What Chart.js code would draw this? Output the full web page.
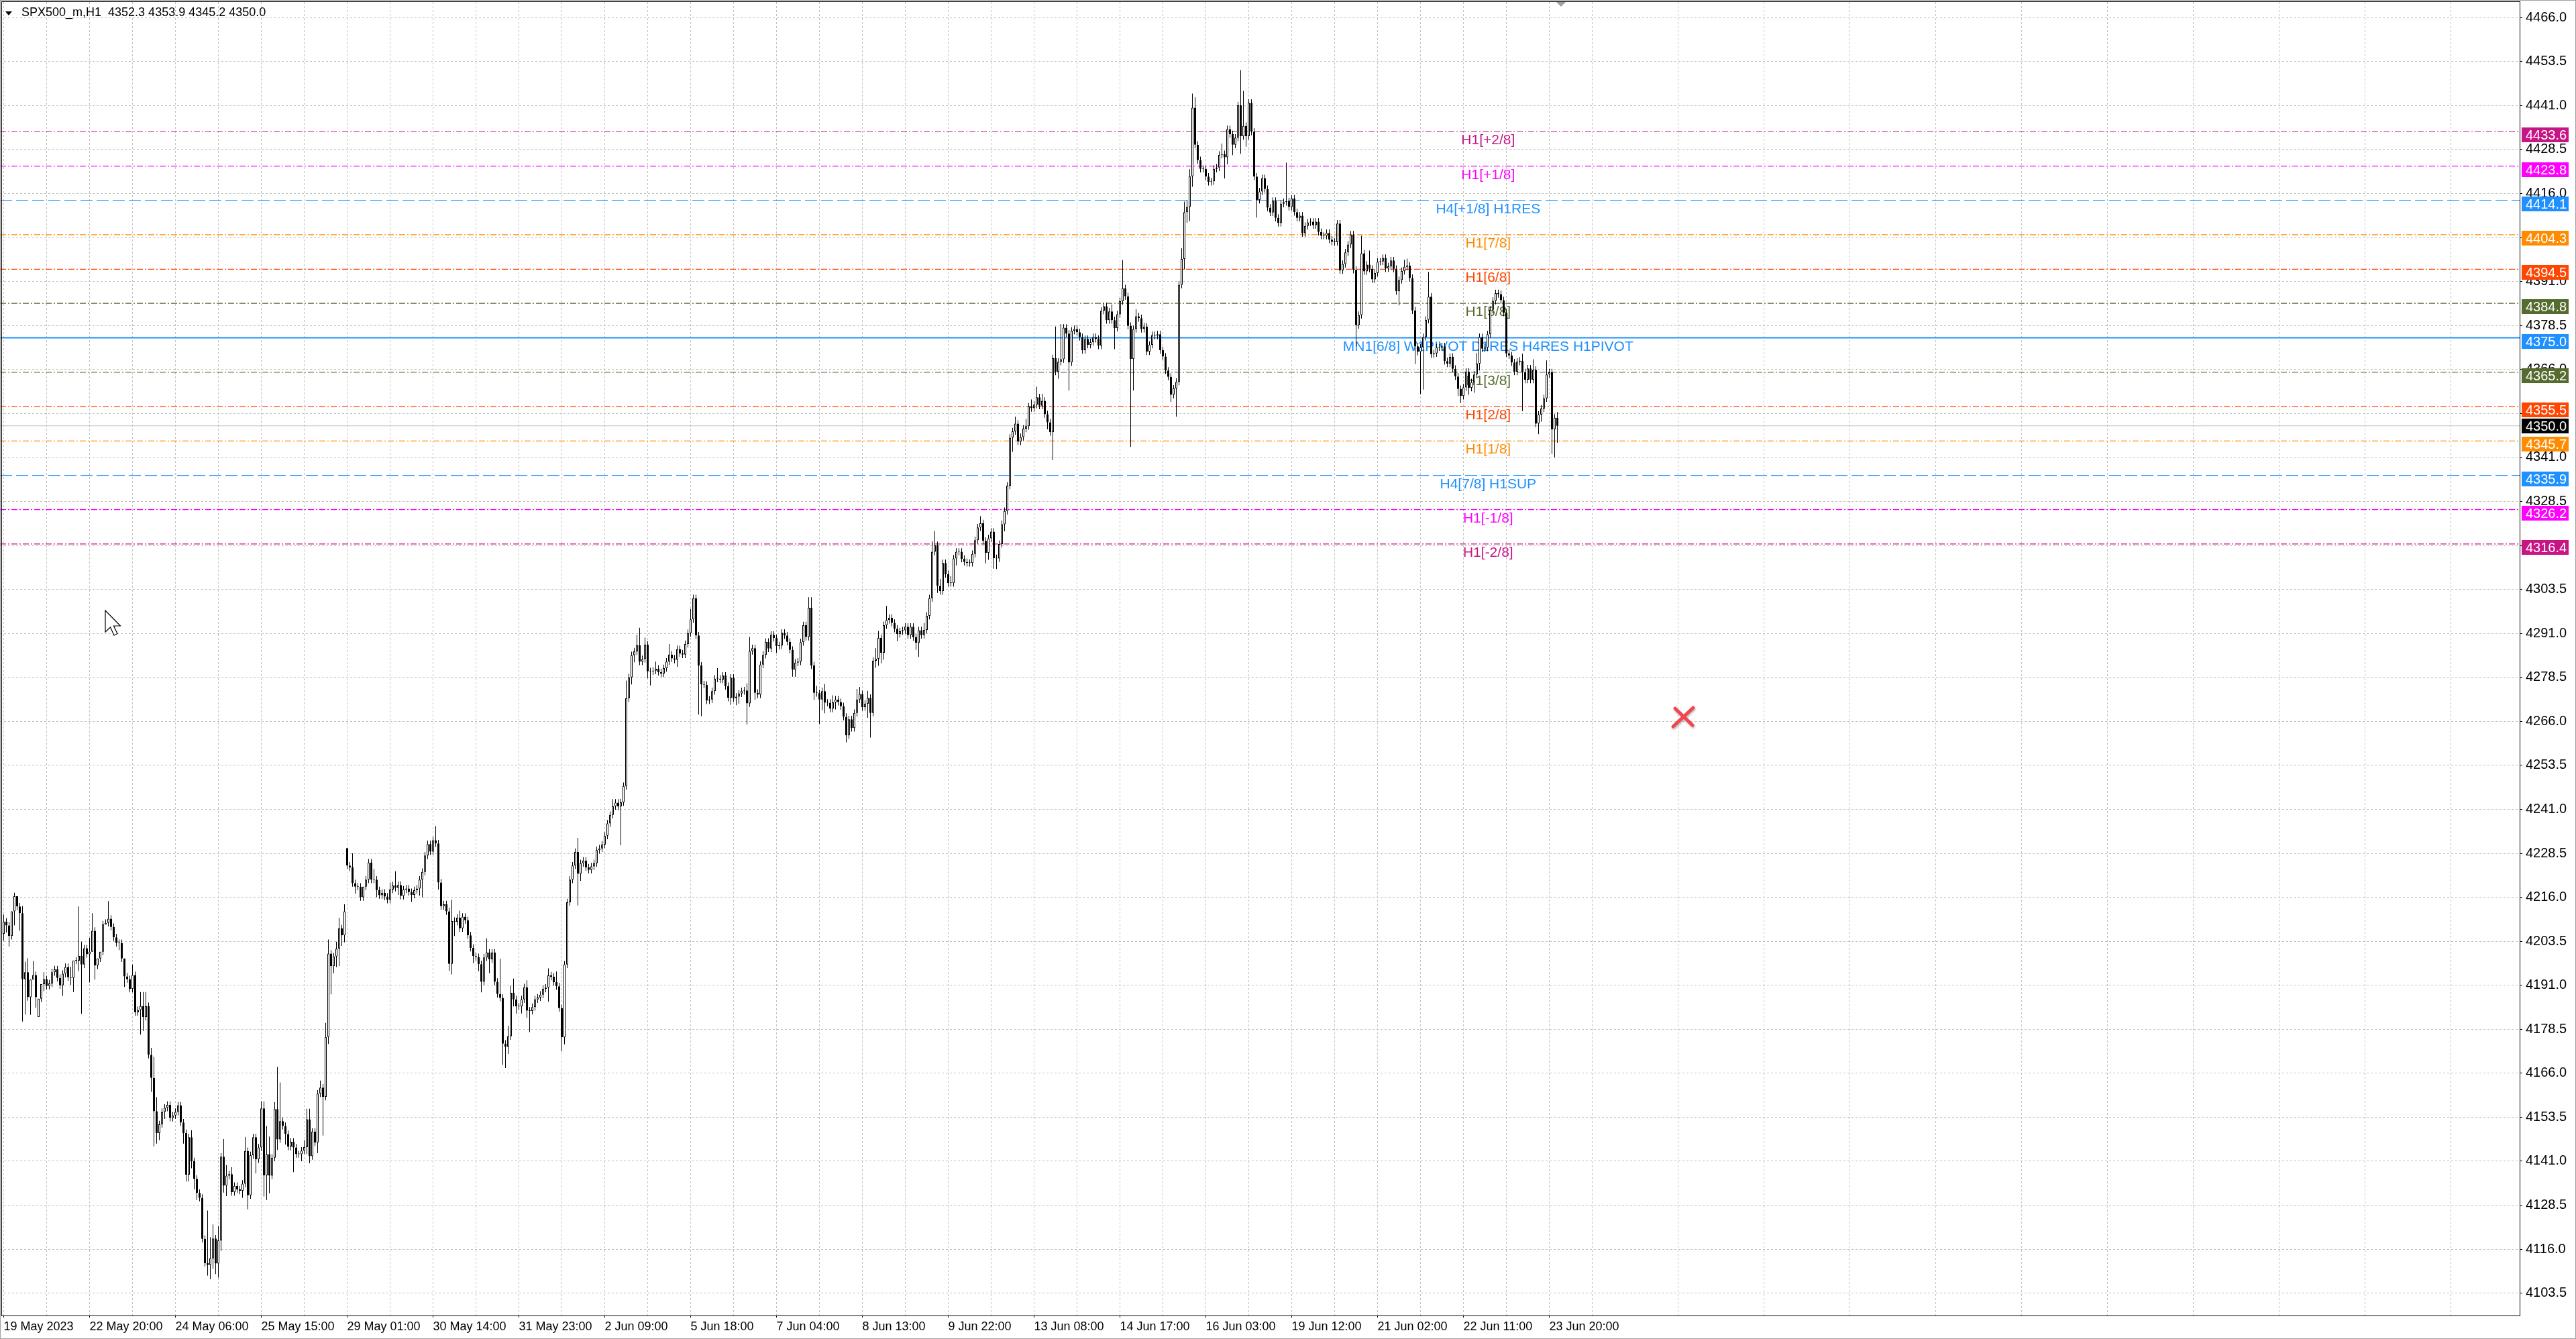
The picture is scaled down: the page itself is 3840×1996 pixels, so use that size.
<!DOCTYPE html>
<html>
<head>
<meta charset="utf-8">
<script src="https://cdn.jsdelivr.net/npm/chart.js@4.4.0/dist/chart.umd.min.js"></script>
<style>
  html, body { margin: 0; padding: 0; background: #fff; overflow: hidden; }
  canvas { display: block; }
</style>
</head>
<body>
<canvas id="chart" width="3840" height="1996"></canvas>
<script>
// --- data (SPX500_m, H1) ---
const symbolTitle = 'SPX500_m,H1  4352.3 4353.9 4345.2 4350.0';
const timeLabels = ['19 May 2023', '22 May 20:00', '24 May 06:00', '25 May 15:00', '29 May 01:00', '30 May 14:00',
  '31 May 23:00', '2 Jun 09:00', '5 Jun 18:00', '7 Jun 04:00', '8 Jun 13:00', '9 Jun 22:00', '13 Jun 08:00',
  '14 Jun 17:00', '16 Jun 03:00', '19 Jun 12:00', '21 Jun 02:00', '22 Jun 11:00', '23 Jun 20:00'];
const priceTicks = [4466.0, 4453.5, 4441.0, 4428.5, 4416.0, 4403.5, 4391.0, 4378.5, 4366.0, 4353.5, 4341.0,
  4328.5, 4316.0, 4303.5, 4291.0, 4278.5, 4266.0, 4253.5, 4241.0, 4228.5, 4216.0, 4203.5, 4191.0, 4178.5,
  4166.0, 4153.5, 4141.0, 4128.5, 4116.0, 4103.5];

// closes per hourly bar; open = previous close unless listed in gapOpens
const closes = [
  4209.1, 4208, 4205, 4212, 4216.3, 4213.4, 4211.5, 4192.7, 4194.7, 4187.6,
  4192.6, 4193.9, 4187.6, 4187.2, 4191.3, 4192.7, 4190.8, 4191.5, 4194.7, 4195.5,
  4193.1, 4191, 4194.3, 4196.2, 4193.3, 4193.1, 4198, 4198, 4199.4, 4196.9,
  4201.5, 4199.8, 4200.5, 4206.5, 4196.6, 4198.6, 4200.5, 4208.3, 4208.7, 4209.9,
  4207.6, 4204.6, 4203, 4203, 4198.6, 4193.5, 4192.7, 4190, 4193.9, 4183.3,
  4184, 4185.1, 4182, 4185.1, 4171.2, 4164.7, 4155.2, 4149, 4151.5, 4155,
  4156.2, 4157, 4153.3, 4154, 4155, 4156.8, 4152, 4149, 4137.2, 4147.8,
  4141, 4136, 4132, 4130.6, 4118.9, 4112, 4111.5, 4113.4, 4119, 4111.9,
  4118.5, 4142.3, 4134.1, 4136.9, 4137.3, 4132.2, 4134, 4133, 4132.6, 4134.6,
  4143.9, 4131.3, 4142.7, 4147.8, 4141.5, 4144.9, 4156, 4137, 4143, 4136.9,
  4142, 4155.8, 4147.2, 4152.4, 4151, 4148.7, 4145.1, 4146.5, 4144.9, 4143,
  4143, 4144, 4145, 4152.9, 4142.4, 4149.4, 4146.3, 4160.2, 4161.9, 4159.3,
  4176.3, 4200, 4196.4, 4199.2, 4201.4, 4207.2, 4205.2, 4212, 4225, 4224.5,
  4220, 4219, 4219, 4216, 4219, 4221, 4225.9, 4221, 4221, 4218,
  4216.6, 4217.3, 4216.2, 4215.3, 4218.2, 4219.4, 4218.7, 4219.5, 4216.4, 4218.2,
  4218.5, 4217.5, 4216.7, 4218, 4218.5, 4221, 4223.2, 4227.9, 4231.1, 4229,
  4232.2, 4231.3, 4220.2, 4213.5, 4214, 4212, 4197.1, 4209.3, 4209, 4210.2,
  4207.2, 4210.5, 4209.5, 4205.2, 4201.6, 4199.3, 4199, 4197, 4192, 4198.9,
  4200.3, 4198.4, 4200.3, 4192, 4188.5, 4187.4, 4174.4, 4173.5, 4176.5, 4188.9,
  4187, 4185, 4185, 4187, 4190.4, 4183.8, 4183.7, 4184.8, 4187, 4187.5,
  4188.3, 4190, 4190.3, 4193.8, 4193.4, 4191.9, 4190.7, 4184.5, 4176.2, 4196.9,
  4214.6, 4221, 4225, 4228.9, 4222.7, 4225.7, 4226.4, 4224.5, 4223.8, 4224.8,
  4225.7, 4229.4, 4229.9, 4231, 4233.5, 4237, 4239.4, 4241.9, 4242.9, 4241.8,
  4243, 4247.6, 4272.6, 4278.5, 4284.8, 4285.9, 4287.6, 4283, 4283.7, 4287.8,
  4280.2, 4280.2, 4280.4, 4281, 4280, 4279.6, 4281.1, 4283, 4285, 4283.9,
  4283.5, 4286.5, 4285.3, 4285, 4288, 4291.1, 4295, 4301, 4290.4, 4281.9,
  4276.5, 4276.4, 4271.9, 4272.2, 4274.6, 4278.1, 4278.1, 4277.9, 4279, 4276,
  4272.7, 4278.4, 4272.6, 4273, 4273.9, 4274.6, 4274.8, 4271.1, 4286, 4286.8,
  4274.1, 4273.6, 4282.1, 4284.9, 4288.6, 4286.7, 4290.6, 4289.7, 4287.4, 4287.6,
  4291.2, 4290.4, 4288.6, 4286.3, 4280.7, 4282.7, 4283, 4288.5, 4293.3, 4290,
  4298.3, 4281.9, 4274.1, 4274, 4272.2, 4274.6, 4271.3, 4271.3, 4269.6, 4271.4,
  4272.2, 4271.5, 4270.3, 4267.3, 4262, 4266.6, 4264.1, 4268.4, 4272.2, 4273.8,
  4270, 4271, 4272.7, 4268.4, 4283.2, 4283.8, 4289.7, 4285.5, 4293.3, 4294.8,
  4295.4, 4294, 4292.3, 4290.8, 4291.6, 4291.9, 4292.9, 4290.5, 4292.9, 4289.9,
  4288.3, 4291.9, 4290.5, 4292, 4296, 4301, 4314.2, 4316.1, 4304.5, 4303,
  4311, 4307.8, 4305.3, 4305.3, 4312.3, 4314.2, 4314.2, 4312.2, 4311.3, 4311,
  4311, 4313.6, 4317.5, 4321.1, 4322.3, 4317.3, 4313.9, 4318, 4319.9, 4312.4,
  4312.3, 4316.4, 4322, 4325.8, 4333, 4346.6, 4348.4, 4350.6, 4345.5, 4346.8,
  4349.2, 4349.9, 4355.5, 4355, 4356, 4358.1, 4355.7, 4357.1, 4353.3, 4351,
  4348.2, 4369.2, 4365.4, 4368.2, 4368.9, 4377.9, 4376.2, 4368, 4377, 4377.5,
  4376.6, 4375.2, 4371.5, 4374.7, 4373, 4373.8, 4375.2, 4374.7, 4372.8, 4382.7,
  4384, 4380, 4382.5, 4380, 4377.8, 4381.7, 4385.4, 4389.1, 4386.8, 4378.4,
  4369, 4377.5, 4381.1, 4380.6, 4377.5, 4378.2, 4371.1, 4373, 4375.8, 4375.6,
  4376, 4371.5, 4369.7, 4365.7, 4363.9, 4358.8, 4360.6, 4362.5, 4390.1, 4397.4,
  4410.7, 4412.2, 4420.9, 4440.4, 4429.9, 4425.5, 4423, 4423, 4420.8, 4419.3,
  4419.5, 4423, 4423.4, 4427, 4427.2, 4426.3, 4434.3, 4432.9, 4429.9, 4431.9,
  4441.1, 4432.3, 4435.2, 4432.3, 4441.8, 4433.6, 4420.8, 4414.2, 4416.6, 4420.4,
  4417.3, 4412, 4410.6, 4413.9, 4409.1, 4407.6, 4413.1, 4413.6, 4413.8, 4412.2,
  4414.6, 4410.7, 4409.1, 4409.7, 4404.7, 4406.8, 4407.8, 4408, 4407, 4408,
  4405.1, 4404, 4404, 4404.8, 4402.9, 4402.3, 4402.2, 4407.5, 4394.2, 4396,
  4399.3, 4401.5, 4404.4, 4394.3, 4378.6, 4381.5, 4399, 4393.9, 4395.8, 4394.6,
  4391.6, 4393.4, 4396.6, 4396.7, 4397.7, 4394.7, 4395.3, 4397, 4394.6, 4388.2,
  4391.4, 4394, 4395.2, 4395.5, 4392, 4382.8, 4372.6, 4371, 4372.3, 4375.2,
  4380.1, 4386.7, 4370.3, 4370.6, 4372.3, 4372.3, 4372.6, 4368.4, 4367.7, 4369.6,
  4366.2, 4364, 4360.5, 4358.5, 4360.9, 4365.4, 4360.8, 4362.4, 4364.6, 4367.7,
  4375.2, 4371.9, 4372.2, 4376, 4383, 4385.5, 4387.7, 4387.4, 4385.7, 4382.1,
  4370.6, 4370, 4368, 4365.4, 4368.2, 4368.5, 4365.2, 4363.1, 4366.3, 4363.1,
  4365.9, 4350.6, 4353.2, 4354.9, 4357.8, 4364.6, 4365.2, 4349, 4352.3, 4350
];
// upper / lower shadow length of each bar, in points
const wickUp = [
  2,1,1,0,1,0,1,2,3,4, 0,4,1,0,0,2,1,1,1,1, 1,1,1,1,1,3,0,1,14,4, 1,1,4,5,1,0,0,1,1,5,
  1,1,1,1,1,0,1,1,3,1, 1,4,4,4,1,2,6,4,1,1, 1,1,1,1,1,1,1,1,1,1, 2,1,1,1,1,1,15,6,4,1,
  4,1,5,3,1,2,1,1,1,1, 4,1,1,1,1,1,2,2,8,5, 1,2,12,11,1,1,1,1,1,1, 1,1,2,3,3,1,1,1,2,1,
  4,4,1,1,2,3,1,2,0,1, 4,1,1,1,0,1,1,1,3,1, 1,1,1,1,2,1,4,1,1,1, 1,1,1,1,1,1,1,1,1,1,
  1,4,1,1,1,1,1,6,1,1, 2,1,1,1,1,1,1,1,1,1, 4,1,1,1,1,10,1,1,3,2, 4,1,1,1,1,2,1,1,1,1,
  1,1,1,2,1,1,3,1,1,1, 1,1,1,1,4,1,1,1,1,1, 1,1,1,1,1,1,1,2,1,1, 1,1,5,1,1,1,3,5,1,2,
  1,1,1,2,1,1,1,1,3,1, 1,1,1,1,1,1,3,1,1,1, 1,1,1,1,1,1,3,1,1,1, 1,1,1,1,1,1,1,2,4,1,
  1,1,1,1,1,1,1,1,1,1, 1,1,1,1,1,1,1,1,1,1, 3,3,1,2,1,1,2,1,1,2, 1,1,1,1,1,1,1,1,3,2,
  1,1,2,1,1,3,2,1,1,4, 1,1,1,1,1,1,1,1,1,1, 1,1,1,2,1,1,3,4,1,2, 1,1,1,2,1,1,1,1,1,1,
  1,1,1,1,2,1,1,1,1,1, 1,1,1,1,1,1,1,2,1,1, 1,2,1,2,1,3,1,2,1,1, 1,1,9,1,10,1,1,1,1,1,
  1,1,1,1,1,1,1,1,1,1, 1,1,1,2,1,1,1,8,1,1, 1,1,2,1,1,1,1,1,1,1, 1,1,1,1,1,1,1,1,1,3,
  3,2,2,4,3,1,1,1,1,1, 1,1,1,1,3,1,1,1,1,1, 1,10,10,1,1,1,1,1,1,1, 1,1,1,1,1,1,1,1,11,1,
  1,1,1,1,1,1,1,1,1,1, 1,1,1,1,1,1,1,1,1,1, 1,1,1,1,1,1,5,1,1,4, 1,1,1,1,1,1,1,1,1,1,
  1,1,2,2,1,1,1,1,1,1, 1,7,1,1,1,1,1,1,1,1, 1,1,1,1,1,1,1,1,1,3, 1,1,1,1,1,1,1,1,1,1,
  1,1,1,1,1,1,2,1,1,1, 3,1,1,1,1,4,1,1,1,1.6
];
const wickDn = [
  2,2,3,1,4,1,5,12,10,1, 5,0,3,0,1,2,1,1,1,1, 1,1,3,1,1,2,4,1,3,14, 1,1,8,0,4,1,1,1,0,1,
  1,1,1,2,1,3,1,1,1,1, 1,7,4,1,1,4,10,3,2,1, 2,1,1,1,1,1,1,3,2,2, 2,3,2,1,1,1,3,4,3,3,
  4,3,2,3,1,1,1,1,1,2, 1,4,1,1,4,1,1,6,7,5, 1,1,3,1,1,3,1,1,7,1, 1,2,1,2,2,1,1,3,1,11,
  1,2,8,2,3,5,3,2,1,1, 1,2,1,1,1,1,1,1,1,2, 1,1,1,1,1,1,1,2,1,1, 1,1,2,1,1,2,5,1,1,1,
  1,1,2,1,1,1,2,3,4,1, 1,1,1,1,1,2,1,2,3,1, 1,4,1,1,1,1,6,6,2,1, 2,2,1,2,1,2,6,1,1,1,
  1,1,1,4,1,1,1,1,4,2, 1,1,1,1,9,2,1,1,1,1, 1,1,1,1,1,1,1,1,1,1, 11,1,1,1,2,2,1,1,1,1,
  2,4,1,1,1,1,1,1,1,1, 1,2,1,1,1,1,1,1,1,14, 9,1,1,1,1,1,1,1,1,1, 1,2,1,2,2,1,1,6,1,1,
  2,1,1,1,1,1,1,1,2,1, 1,1,1,1,2,2,1,1,1,1, 1,1,2,1,7,3,3,1,1,1, 2,1,1,1,2,1,1,1,1,1,
  1,1,4,7,1,2,2,3,2,1, 1,1,1,2,1,1,1,1,1,1, 2,4,1,1,1,1,1,1,2,1, 1,1,1,1,1,2,1,1,1,1,
  1,1,1,1,1,1,3,2,1,3, 3,1,1,2,1,1,4,1,1,1, 1,1,1,1,1,1,1,1,1,2, 1,8,1,2,1,1,1,8,1,1,
  1,1,1,1,1,1,1,1,1,1, 1,1,1,1,6,1,1,1,1,1, 25,9,1,1,1,1,1,1,1,1, 1,1,1,1,1,2,1,8,1,1,
  3,3,4,3,1,1,1,1,1,1, 1,1,1,1,1,6,2,1,3,1, 1,5,1,3,1,1,1,5,1,1, 1,1,1,1,1,1,1,1,1,1,
  1,1,1,1,1,1,1,1,1,1, 1,1,1,1,1,1,1,1,1,1, 1,1,1,1,6,1,1,1,1,1, 1,1,1,1,1,1,1,1,1,1,
  4,1,1,1,1,1,5,1,12,12, 1,1,1,1,1,1,1,1,1,1, 1,1,2,2,1,1,2,1,3,1, 2,1,1,1,1,1,1,1,1,1,
  1,1,1,1,1,1,11,1,1,1, 1,1,3,2,1,1,1,7,8,4.8
];
const gapOpens = { 0: 4205.6, 13: 4182, 128: 4230 };

const levelPrices = [4433.6, 4423.8, 4414.1, 4404.3, 4394.5, 4384.8, 4375.0, 4365.2, 4355.5, 4345.7, 4335.9, 4326.2, 4316.4];
const levelNames = ['H1[+2/8]', 'H1[+1/8]', 'H4[+1/8] H1RES', 'H1[7/8]', 'H1[6/8]', 'H1[5/8]',
  'MN1[6/8] W1PIVOT D1RES H4RES H1PIVOT', 'H1[3/8]', 'H1[2/8]', 'H1[1/8]', 'H4[7/8] H1SUP', 'H1[-1/8]', 'H1[-2/8]'];
const bidPrice = 4350.0;

// --- styles ---
const levelColors = ['#C71585', '#FF00FF', '#1E90FF', '#FF8C00', '#FF4500', '#556B2F', '#1E90FF',
  '#556B2F', '#FF4500', '#FF8C00', '#1E90FF', '#FF00FF', '#C71585'];
const DASHDOT = [9, 3, 2, 3], DASH = [18, 6];
const levelDash = [DASHDOT, DASHDOT, DASH, DASHDOT, DASHDOT, DASHDOT, [], DASHDOT, DASHDOT, DASHDOT, DASH, DASHDOT, DASHDOT];
const levelWidth = levelPrices.map((p, i) => (i === 6 ? 2 : 1.2));

const X_MIN = -1.375, X_MAX = 937.625;   // 4 px per bar
const Y_MIN = 4097.14, Y_MAX = 4470.44;
const LABEL_BAR = 553.2;
const FONT = 'Liberation Sans';

const opens = closes.map((c, i) => (i in gapOpens ? gapOpens[i] : closes[i - 1]));
const highs = closes.map((c, i) => Math.max(opens[i], c) + wickUp[i]);
const lows = closes.map((c, i) => Math.min(opens[i], c) - wickDn[i]);

const levelSets = levelPrices.map((p, i) => ({
  type: 'line', order: 3,
  data: [{ x: X_MIN, y: p }, { x: X_MAX, y: p }],
  borderColor: levelColors[i], borderWidth: levelWidth[i], borderDash: levelDash[i],
  pointRadius: 0, tension: 0,
}));
levelSets.push({
  type: 'line', order: 4,
  data: [{ x: X_MIN, y: bidPrice }, { x: X_MAX, y: bidPrice }],
  borderColor: '#C0C0C0', borderWidth: 1, pointRadius: 0,
});

// no label overhang padding: the scale fills the plot edge to edge
const noOverhang = (s) => { s.paddingTop = 0; s.paddingBottom = 0; s.paddingLeft = 0; s.paddingRight = 0; };

const mtOverlay = {
  id: 'mtOverlay',
  beforeDatasetsDraw(chart) {
    const { ctx, scales: { x, y } } = chart;
    ctx.save();
    ctx.font = `21px "${FONT}"`;
    ctx.textAlign = 'center';
    ctx.textBaseline = 'alphabetic';
    const cx = x.getPixelForValue(LABEL_BAR);
    levelPrices.forEach((p, i) => {
      ctx.fillStyle = levelColors[i];
      ctx.fillText(levelNames[i], cx, y.getPixelForValue(p) + 19);
    });
    ctx.restore();
  },
  afterDraw(chart) {
    const { ctx, chartArea: a, scales: { y } } = chart;
    ctx.save();
    // window + chart frame
    ctx.strokeStyle = '#A0A0A0'; ctx.lineWidth = 1;
    ctx.strokeRect(0.5, 0.5, chart.width - 1, chart.height - 1);
    ctx.strokeStyle = '#000';
    ctx.strokeRect(2.5, 2.5, a.right - 2, a.bottom - 2);

    // price boxes on the right scale
    ctx.font = `20px "${FONT}"`;
    ctx.textAlign = 'left';
    ctx.textBaseline = 'middle';
    const box = (p, color, top) => {
      ctx.fillStyle = color;
      ctx.fillRect(a.right + 3, top, 70, 22);
      ctx.fillStyle = '#fff';
      ctx.fillText(p.toFixed(1), a.right + 9, top + 12);
    };
    levelPrices.forEach((p, i) => box(p, levelColors[i], Math.round(y.getPixelForValue(p)) - 6));
    box(bidPrice, '#000', Math.round(y.getPixelForValue(bidPrice)) - 11);

    // header
    ctx.fillStyle = '#000';
    ctx.beginPath(); ctx.moveTo(8, 17); ctx.lineTo(18, 17); ctx.lineTo(13, 23); ctx.closePath(); ctx.fill();
    ctx.font = `18px "${FONT}"`;
    ctx.textBaseline = 'alphabetic';
    ctx.fillText(symbolTitle, 32, 24);

    // chart shift marker
    ctx.fillStyle = '#A0A0A0';
    ctx.beginPath(); ctx.moveTo(2320, 3); ctx.lineTo(2334, 3); ctx.lineTo(2327, 10); ctx.closePath(); ctx.fill();

    // red cross object
    ctx.strokeStyle = '#F4444C'; ctx.lineWidth = 5; ctx.lineCap = 'round';
    ctx.shadowColor = 'rgba(0,0,0,0.3)'; ctx.shadowBlur = 3; ctx.shadowOffsetX = 1; ctx.shadowOffsetY = 2;
    ctx.beginPath();
    ctx.moveTo(2494, 1083); ctx.lineTo(2524, 1055);
    ctx.moveTo(2497, 1056); ctx.lineTo(2523, 1081);
    ctx.stroke();
    ctx.shadowColor = 'transparent';

    // mouse pointer
    ctx.fillStyle = '#fff'; ctx.strokeStyle = '#000'; ctx.lineWidth = 1.2; ctx.lineJoin = 'miter';
    ctx.beginPath();
    ctx.moveTo(157, 910); ctx.lineTo(157, 942); ctx.lineTo(164.5, 935); ctx.lineTo(170, 947);
    ctx.lineTo(175, 944.5); ctx.lineTo(169.5, 933); ctx.lineTo(179.5, 933); ctx.closePath();
    ctx.fill(); ctx.stroke();
    ctx.restore();
  },
};

new Chart(document.getElementById('chart'), {
  type: 'bar',
  data: {
    datasets: [
      {
        label: 'shadows', order: 2, grouped: false,
        data: closes.map((c, i) => ({ x: i, y: [lows[i], highs[i]] })),
        backgroundColor: '#000', borderWidth: 0,
        barThickness: 1, maxBarThickness: 1, inflateAmount: 0,
      },
      {
        label: 'bodies', order: 1, grouped: false,
        data: closes.map((c, i) => ({ x: i, y: [opens[i], c] })),
        backgroundColor: closes.map((c, i) => (c >= opens[i] ? '#fff' : '#000')),
        borderColor: '#000', borderWidth: 1, borderSkipped: false,
        barThickness: 3, maxBarThickness: 3, minBarLength: 1, inflateAmount: 0,
      },
      ...levelSets,
    ],
  },
  options: {
    responsive: false,
    animation: false,
    devicePixelRatio: 1,
    events: [],
    layout: { padding: { top: 3, left: 0, right: 0, bottom: 0 } },
    plugins: { legend: { display: false }, tooltip: { enabled: false } },
    scales: {
      x: {
        type: 'linear', min: X_MIN, max: X_MAX, offset: false,
        grid: {
          color: '#C0C0C0', offset: false, tickLength: 3, tickBorderDash: [],
          tickColor: (c) => (c.tick && c.tick.value % 32 === 0 ? '#000' : 'rgba(0,0,0,0)'),
        },
        border: { display: false, dash: [3, 3] },
        ticks: {
          autoSkip: false, maxRotation: 0, minRotation: 0, align: 'start', padding: 3,
          color: '#000', font: { family: FONT, size: 18 },
          callback: (v) => (v % 32 === 0 ? timeLabels[v / 32] : ''),
        },
        afterBuildTicks: (s) => {
          s.ticks = [];
          for (let v = 0; v <= X_MAX; v += 16) s.ticks.push({ value: v });
        },
        afterFit: (s) => { s.height = 35; noOverhang(s); },
      },
      y: {
        type: 'linear', position: 'right', min: Y_MIN, max: Y_MAX,
        grid: { color: '#C0C0C0', tickLength: 4, tickColor: '#000', tickBorderDash: [] },
        border: { display: false, dash: [3, 3] },
        ticks: {
          autoSkip: false, padding: 5, color: '#000', font: { family: FONT, size: 20 },
          callback: (v) => v.toFixed(1),
        },
        afterBuildTicks: (s) => { s.ticks = priceTicks.map((v) => ({ value: v })); },
        afterFit: (s) => { s.width = 84; noOverhang(s); },
      },
    },
  },
  plugins: [mtOverlay],
});
</script>
</body>
</html>
